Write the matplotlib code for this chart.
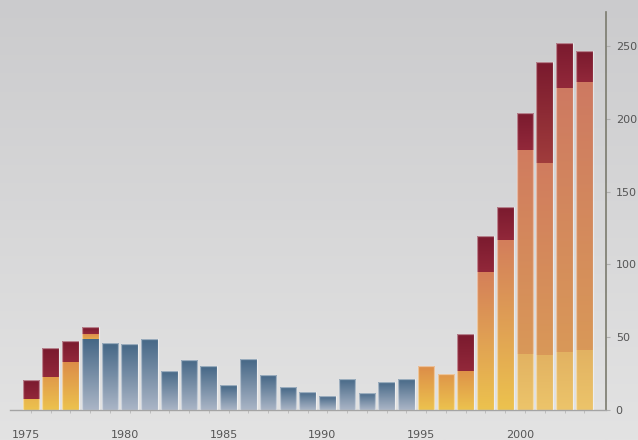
import numpy as np
import matplotlib
matplotlib.use("Agg")
import matplotlib.pyplot as plt
from matplotlib.colors import LinearSegmentedColormap, to_rgb
from matplotlib.transforms import ScaledTranslation

# ---- data -------------------------------------------------------------
years = list(range(1975, 2004))
blue = [0, 0, 0, 48.5, 46, 45.5, 49, 27, 34.5, 30, 17, 35, 24, 15.5, 12.5,
        9.5, 21.5, 12, 19.5, 21.5, 0, 0, 0, 0, 0, 0, 0, 0, 0]
light = [0] * 25 + [38.5, 38, 40, 41.5]
orange = [7.5, 23, 33, 4] + [0] * 16 + [30, 24.5, 26.5, 94.5, 116.5, 140, 132, 181, 184]
red = [13, 19.5, 14.5, 4.5] + [0] * 16 + [0, 0, 26, 25, 23, 25.5, 69, 31, 21]
year_labels = [1975, 1980, 1985, 1990, 1995, 2000]
y_ticks = [0, 50, 100, 150, 200, 250]

# ---- styling ----------------------------------------------------------
W, H = 638, 440
fig = plt.figure(figsize=(W / 100, H / 100), dpi=100)

# soft grey backdrop, a little darker at the top
bg = fig.add_axes([0, 0, 1, 1], zorder=-10)
grad = np.linspace(0, 1, 256)[:, None]
bg_cmap = LinearSegmentedColormap.from_list("bg", ["#e3e3e3", "#cbcbcd"])
bg.imshow(grad, aspect="auto", cmap=bg_cmap, origin="lower", extent=[0, 1, 0, 1])
bg.set_axis_off()

ax = fig.add_axes([10 / W, (H - 410) / H, (606 - 10) / W, (410 - 12) / H])
ax.set_facecolor("none")

# orange tone follows the height of the stack
orange_map = LinearSegmentedColormap.from_list(
    "orange", [(0.0, "#ecc24e"), (30 / 260, "#dc8c48"), (100 / 260, "#d47f5a"), (1.0, "#cc7864")])


def orange_at(v):
    return orange_map(min(v, 260) / 260)[:3]


def gradient_segment(x, bottom, height, c_top, c_bottom, width=0.84):
    if height <= 0:
        return
    patch = ax.bar(x, height, bottom=bottom, width=width, color="none",
                   edgecolor="none", zorder=2)[0]
    t = np.linspace(0, 1, 64)[:, None, None]
    top = np.array(to_rgb(c_top))[None, None, :]
    bot = np.array(to_rgb(c_bottom))[None, None, :]
    img = bot * (1 - t) + top * t
    im = ax.imshow(img, extent=[x - width / 2, x + width / 2, bottom, bottom + height],
                   origin="lower", aspect="auto", zorder=2, interpolation="bilinear")
    im.set_clip_path(patch)


for i, yr in enumerate(years):
    b = 0.0
    gradient_segment(yr, b, blue[i], "#456786", "#aab5c6")
    b += blue[i]
    gradient_segment(yr, b, light[i], "#e2b262", "#ecc46a")
    b += light[i]
    if orange[i] > 0:
        if light[i] > 0:
            cb = "#d99858"
        elif blue[i] > 0:
            cb = "#e6aa4c"
        else:
            cb = orange_at(b)
        gradient_segment(yr, b, orange[i], orange_at(b + orange[i]), cb)
    b += orange[i]
    red_bottom = "#a03c3c" if red[i] > 40 else "#92283a"
    gradient_segment(yr, b, red[i], "#7a1a2e", red_bottom)
    b += red[i]
    # pale halo round each column
    ax.bar(yr, b, width=0.84, color="none", edgecolor=(1, 1, 1, 0.45),
           linewidth=0.9, zorder=3)

ax.set_xlim(1973.94, 2004.1)
ax.set_ylim(0, 273.4)

for s in ("left", "top"):
    ax.spines[s].set_visible(False)
ax.spines["right"].set_color("#7b7b6e")
ax.spines["right"].set_linewidth(1.2)
ax.spines["bottom"].set_color("#a4a4a4")
ax.spines["bottom"].set_linewidth(1.0)

ax.yaxis.tick_right()
ax.set_yticks(y_ticks)
ax.set_yticklabels([str(v) for v in y_ticks])
ax.tick_params(axis="y", length=3, width=0.8, color="#b0b0b0", pad=4,
               labelsize=8, labelcolor="#555555")

ax.set_xticks(year_labels)
ax.set_xticklabels([str(v) for v in year_labels])
ax.set_xticks(years, minor=True)
ax.tick_params(axis="x", which="both", length=2.5, width=0.6, color="#b8b8b8",
               pad=12, labelsize=8, labelcolor="#555555")
shift = ScaledTranslation(-5 / 100, 0, fig.dpi_scale_trans)
for lab in ax.get_xticklabels():
    lab.set_transform(lab.get_transform() + shift)

fig.savefig("out.png", dpi=100)
